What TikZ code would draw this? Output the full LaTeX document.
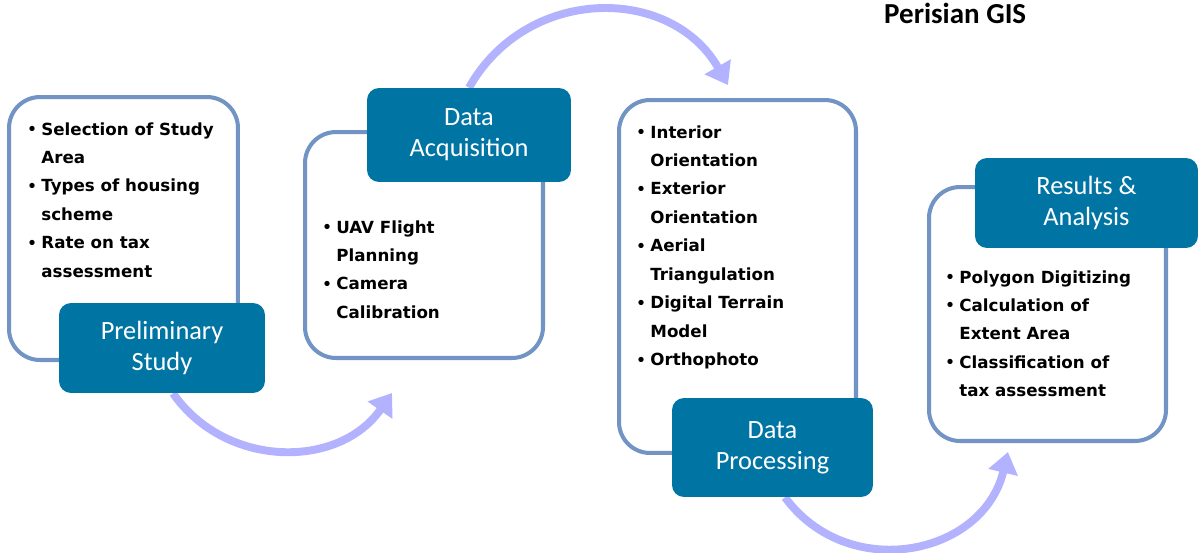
\documentclass[tikz,border=0pt]{standalone}
\usepackage{fontspec}
\usepackage{xcolor}
\usetikzlibrary{arrows.meta,positioning,shapes}
\newfontfamily\headfont{Carlito}
\newfontfamily\listfont{DejaVu Sans}
\definecolor{stepblue}{RGB}{0,117,163}
\definecolor{frameblue}{RGB}{114,148,196}
\definecolor{flowlilac}{RGB}{178,178,255}
\pgfdeclarelayer{background}
\pgfsetlayers{background,main}
% bullet and hanging indent for the item lists
\newcommand{\bul}{\makebox[8pt][l]{\raisebox{0.3pt}{\fontsize{8.5}{8.5}\selectfont\textbullet}}}
\newcommand{\ind}{\hspace*{8pt}}
\tikzset{
  listframe/.style={draw=frameblue, line width=2.3pt, rounded corners=0.62cm, fill=white, inner sep=0pt},
  stepbox/.style={fill=stepblue, text=white, rounded corners=0.24cm, align=center, inner sep=0pt,
    font=\headfont\fontsize{15}{17.6}\selectfont},
  itemlist/.style={anchor=north west, align=left, inner sep=0pt,
    font=\listfont\bfseries\fontsize{9.5}{16.2}\selectfont},
  flow/.style={draw=flowlilac, line width=4.5pt, -{Triangle[length=0.42cm, width=0.58cm]}}
}

\begin{document}
\begin{tikzpicture}[x=0.02cm, y=-0.02cm]
            \useasboundingbox (0,0) rectangle (1198,552);
            % Title
            \node[anchor=base west, font=\headfont\bfseries\fontsize{16.5}{18}\selectfont] (title) at (878,23) {Perisian GIS};
            % Frames holding the item lists
            \node[listframe, minimum width=4.58cm, minimum height=5.26cm] (prelimbox) at (123.5,228.5) {};
            \node[listframe, minimum width=4.76cm, minimum height=4.52cm] (acqbox) at (424,245) {};
            \node[listframe, minimum width=4.74cm, minimum height=7.06cm] (procbox) at (737.5,276.5) {};
            \node[listframe, minimum width=4.74cm, minimum height=5.08cm] (resbox) at (1047.5,314) {};
            % Step boxes
            \node[stepbox, minimum width=4.12cm, minimum height=1.8cm] (prelim) at (162,348) {Preliminary\\Study};
            \node[stepbox, minimum width=4.08cm, minimum height=1.88cm] (acq) at (469,135) {Data\\Acquisition};
            \node[stepbox, minimum width=4.02cm, minimum height=1.98cm] (proc) at (772.5,447.5) {Data\\Processing};
            \node[stepbox, minimum width=4.46cm, minimum height=1.8cm] (res) at (1086.5,203) {Results \&\\Analysis};
            % Arrows between the steps, kept under the boxes
            \coordinate (tip1) at (392,393);
            \coordinate (tip2) at (728,85);
            \coordinate (tip3) at (1008,452);
            \begin{pgfonlayer}{background}
            \fill[white] (0,0) rectangle (1198,552);
            \draw[flow] ([xshift=0.22cm]prelim.south) .. controls (226,469) and (339,469) .. (tip1);
            \draw[flow] (acq.north) .. controls (527,-15) and (671,-15) .. (tip2);
            \draw[flow] ([xshift=0.25cm]proc.south) .. controls (848,583) and (983,556) .. (tip3);
            \end{pgfonlayer}
            % Item lists
            \node[itemlist] (prelimlist) at (27,122) {\bul Selection of Study\\ \ind Area\\ \bul Types of housing\\ \ind scheme\\ \bul Rate on tax\\ \ind assessment};
            \node[itemlist] (acqlist) at (322,220) {\bul UAV Flight\\ \ind Planning\\ \bul Camera\\ \ind Calibration};
            \node[itemlist] (proclist) at (636,125) {\bul Interior\\ \ind Orientation\\ \bul Exterior\\ \ind Orientation\\ \bul Aerial\\ \ind Triangulation\\ \bul Digital Terrain\\ \ind Model\\ \bul Orthophoto};
            \node[itemlist] (reslist) at (945,270) {\bul Polygon Digitizing\\ \bul Calculation of\\ \ind Extent Area\\ \bul Classification of\\ \ind tax assessment};
\end{tikzpicture}
\end{document}
